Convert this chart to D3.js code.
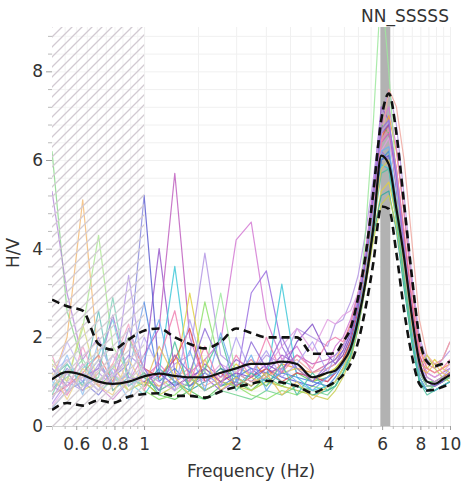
<html>
  <head>
    <title>H/V curves</title>
    <script src="https://d3js.org/d3.v7.min.js"></script>
    <style>
      body { margin: 0; background: #fff; }
      text { font-family: "DejaVu Sans", Verdana, sans-serif; fill: #333; }
    </style>
  </head>

  <body>
    <svg id="hvsr" width="464" height="484"></svg>

    <script>

    // frequency grid of the curves (Hz)
    const freqs = [0.50, 0.56, 0.63, 0.71, 0.79, 0.89, 1.00, 1.12, 1.26, 1.41, 1.58, 1.78, 2.00, 2.24, 2.51,
                   2.82, 3.16, 3.55, 3.98, 4.22, 4.47, 4.73, 5.01, 5.31, 5.62, 5.96, 6.31, 6.68, 7.08, 7.50,
                   7.94, 8.41, 8.91, 9.44, 10.0];

    const curveColors = ["#5cc85c", "#9a5ccc", "#f0a040", "#8ee06a", "#5a5ad0", "#c060c0", "#d47ad4", "#9a6ee0",
                         "#b496e4", "#40c8d8", "#e0d040", "#9ee89e", "#e05050", "#30a8a0", "#4a86e0", "#f0a8a0",
                         "#c8cc50", "#6cd08c", "#8050c8", "#e0a0e0", "#70b0f0", "#f080b0", "#50c0a0", "#b0a0f0",
                         "#e8c060", "#9070d8"];

    // one H/V curve per window
    const windowCurves = [
      [6.2, 2.6, 1.4, 0.9, 1.2, 0.8, 1.0, 0.7, 0.6, 0.8, 0.6, 0.9, 1.0, 0.8, 1.1, 0.9, 1.2, 1.0, 1.1, 1.3, 1.5, 1.9, 2.6, 3.6, 5.0, 6.8, 6.6, 5.4, 3.9, 2.4, 1.3, 1.0, 1.0, 1.1, 1.2],
      [5.3, 3.0, 1.5, 2.0, 1.1, 1.6, 1.3, 4.0, 1.2, 1.0, 1.4, 1.1, 1.5, 1.3, 1.2, 1.6, 1.4, 1.0, 1.3, 1.4, 1.7, 2.1, 2.8, 3.8, 5.4, 7.2, 6.9, 5.3, 3.7, 2.3, 1.3, 0.9, 0.9, 1.0, 1.1],
      [1.0, 2.0, 5.1, 1.5, 0.8, 1.2, 0.9, 1.1, 1.6, 0.9, 1.3, 1.0, 1.2, 1.5, 1.1, 1.4, 1.3, 1.2, 1.4, 1.5, 1.8, 2.3, 3.0, 4.0, 5.2, 6.5, 7.0, 6.2, 4.8, 3.2, 1.8, 1.3, 1.2, 1.3, 1.4],
      [1.5, 1.0, 2.2, 4.3, 1.8, 1.2, 0.8, 0.6, 0.7, 1.0, 2.8, 1.3, 0.9, 0.7, 0.6, 0.8, 0.7, 0.9, 0.8, 1.0, 1.3, 1.7, 2.4, 3.4, 4.6, 6.0, 6.2, 5.0, 3.5, 2.1, 1.2, 0.9, 0.9, 1.0, 1.1],
      [0.8, 1.3, 1.0, 0.7, 1.1, 1.4, 5.2, 1.2, 0.9, 1.1, 0.8, 1.0, 1.2, 1.0, 1.3, 1.1, 1.0, 0.9, 1.1, 1.2, 1.4, 1.8, 2.5, 3.5, 4.8, 6.0, 6.1, 4.9, 3.5, 2.2, 1.2, 0.9, 0.9, 1.0, 1.1],
      [0.9, 0.7, 1.2, 0.9, 0.6, 1.0, 1.6, 2.2, 5.7, 2.0, 1.0, 1.3, 1.1, 0.9, 1.2, 1.3, 1.6, 1.4, 1.5, 1.6, 1.8, 2.2, 2.8, 3.8, 5.0, 6.4, 6.6, 5.6, 4.2, 2.8, 1.6, 1.2, 1.1, 1.2, 1.3],
      [1.1, 0.9, 1.4, 1.0, 1.3, 0.9, 1.1, 1.4, 1.0, 1.2, 1.5, 1.9, 4.2, 4.6, 2.4, 1.5, 1.8, 1.2, 1.4, 1.8, 2.0, 2.4, 3.0, 4.0, 5.4, 6.8, 7.2, 6.3, 4.8, 3.2, 1.9, 1.4, 1.3, 1.5, 1.9],
      [0.5, 1.0, 0.8, 1.2, 0.9, 3.4, 1.1, 0.8, 1.0, 0.9, 1.1, 0.8, 1.0, 3.0, 3.5, 1.8, 1.2, 1.1, 1.0, 1.2, 1.5, 1.9, 2.6, 3.6, 4.9, 6.2, 6.0, 4.8, 3.4, 2.1, 1.1, 0.8, 0.8, 0.9, 1.0],
      [1.2, 1.5, 1.0, 1.3, 1.1, 0.9, 1.2, 1.0, 1.4, 1.6, 3.9, 1.6, 1.3, 1.2, 1.6, 1.4, 2.2, 2.0, 1.8, 2.3, 2.4, 2.8, 3.4, 4.4, 5.6, 7.0, 7.6, 6.8, 5.2, 3.4, 2.0, 1.5, 1.4, 1.5, 1.7],
      [1.0, 0.8, 1.3, 1.6, 2.4, 1.0, 0.7, 1.2, 3.6, 1.1, 0.8, 1.0, 0.9, 1.2, 1.0, 3.2, 1.1, 0.8, 0.9, 1.0, 1.3, 1.6, 2.3, 3.3, 4.6, 5.9, 5.8, 4.6, 3.2, 1.9, 1.0, 0.8, 0.8, 0.9, 1.0],
      [0.9, 1.2, 0.8, 1.0, 1.4, 0.8, 1.0, 0.9, 1.1, 3.0, 1.2, 1.0, 1.4, 1.1, 0.9, 1.2, 1.3, 1.0, 1.2, 1.3, 1.5, 1.8, 2.4, 3.2, 4.3, 5.3, 5.5, 4.7, 3.5, 2.3, 1.4, 1.3, 1.5, 1.3, 1.2],
      [1.3, 0.9, 1.1, 0.8, 1.0, 1.2, 0.9, 1.1, 0.8, 1.0, 1.2, 3.0, 1.1, 0.8, 1.0, 0.9, 0.8, 0.7, 0.8, 1.0, 1.3, 1.7, 2.4, 4.5, 6.9, 10.0, 8.0, 5.5, 3.5, 2.1, 1.2, 0.9, 0.9, 1.0, 1.1],
      [0.7, 0.9, 1.2, 1.6, 1.0, 2.0, 1.3, 1.1, 1.5, 2.2, 1.0, 1.2, 0.9, 1.1, 1.3, 1.0, 1.2, 1.1, 1.0, 1.2, 1.5, 1.9, 2.6, 3.7, 5.0, 6.5, 6.8, 5.8, 4.3, 2.8, 1.6, 1.1, 1.0, 1.1, 1.2],
      [1.1, 1.4, 0.9, 2.6, 0.8, 1.1, 0.9, 1.3, 1.0, 0.8, 1.0, 1.3, 1.1, 0.9, 1.2, 1.0, 0.9, 0.7, 0.8, 0.9, 1.2, 1.5, 2.2, 3.2, 4.3, 5.2, 5.3, 4.4, 3.1, 1.9, 1.0, 0.8, 0.8, 0.9, 1.0],
      [0.4, 0.8, 1.0, 1.5, 0.9, 1.2, 2.8, 1.0, 1.3, 0.9, 1.2, 0.9, 1.1, 1.3, 1.0, 1.2, 1.1, 1.0, 0.9, 1.1, 1.4, 1.8, 2.5, 3.4, 4.7, 6.0, 6.2, 5.0, 3.6, 2.2, 1.1, 0.8, 0.8, 0.9, 1.0],
      [0.8, 1.1, 0.9, 1.2, 1.6, 1.0, 1.2, 0.9, 1.1, 1.3, 0.9, 1.1, 1.2, 1.0, 1.1, 1.3, 1.5, 1.2, 1.3, 1.4, 1.6, 2.0, 2.7, 3.6, 4.8, 6.4, 7.6, 7.2, 6.0, 4.2, 2.4, 1.6, 1.4, 1.5, 1.9],
      [1.4, 1.0, 2.3, 0.9, 1.1, 0.8, 1.0, 0.7, 0.9, 1.1, 0.8, 1.0, 0.9, 0.8, 1.0, 0.9, 0.8, 0.7, 0.6, 0.8, 1.1, 1.5, 2.2, 3.2, 4.2, 5.0, 5.2, 4.5, 3.3, 2.0, 1.3, 1.6, 1.3, 1.1, 1.0],
      [0.9, 1.1, 1.5, 1.0, 1.3, 2.0, 1.1, 0.8, 1.0, 0.7, 0.6, 0.8, 0.7, 0.6, 0.8, 0.7, 0.9, 0.8, 0.7, 0.9, 1.2, 1.6, 2.3, 3.3, 4.6, 5.8, 6.0, 4.9, 3.4, 2.0, 1.1, 0.8, 0.9, 1.0, 1.1],
      [1.3, 0.9, 1.1, 1.3, 2.5, 1.1, 1.0, 1.2, 0.9, 1.1, 1.3, 1.0, 1.2, 1.1, 1.4, 1.2, 1.9, 2.3, 1.6, 1.4, 1.6, 2.0, 2.7, 3.8, 5.2, 6.6, 6.8, 5.6, 4.0, 2.6, 1.4, 1.0, 0.9, 1.0, 1.2],
      [0.45, 0.9, 1.1, 0.8, 1.2, 0.9, 1.3, 1.0, 0.8, 1.2, 1.0, 1.4, 1.2, 1.5, 1.3, 1.8, 2.2, 1.7, 2.4, 2.3, 2.5, 2.6, 3.0, 3.9, 5.0, 6.2, 6.5, 5.5, 4.0, 2.6, 1.5, 1.2, 1.1, 1.2, 1.4],
      [0.9, 1.6, 0.7, 1.9, 1.2, 0.6, 1.5, 2.4, 0.9, 1.7, 0.8, 2.1, 1.0, 1.6, 0.8, 1.3, 1.0, 0.8, 1.1, 1.2, 1.4, 1.8, 2.5, 3.5, 4.8, 6.2, 6.3, 5.1, 3.6, 2.2, 1.1, 0.8, 0.8, 0.9, 1.0],
      [1.6, 0.7, 1.8, 0.9, 1.4, 2.3, 0.8, 1.5, 2.6, 1.0, 1.8, 0.9, 1.6, 1.1, 2.0, 1.2, 1.6, 1.3, 1.9, 2.0, 1.9, 2.3, 2.9, 3.9, 5.1, 6.4, 6.7, 5.8, 4.4, 2.9, 1.7, 1.3, 1.2, 1.3, 1.5],
      [0.7, 1.4, 0.9, 1.1, 2.9, 0.9, 1.2, 0.7, 1.9, 0.8, 1.3, 2.0, 0.8, 1.2, 0.9, 1.4, 0.7, 1.2, 0.8, 0.9, 1.2, 1.6, 2.3, 3.3, 4.5, 5.7, 5.8, 4.7, 3.3, 2.0, 1.0, 0.7, 0.8, 0.9, 1.0],
      [1.0, 1.9, 1.2, 0.8, 1.6, 1.0, 2.0, 1.3, 0.8, 2.4, 1.2, 0.9, 2.0, 1.2, 1.7, 1.1, 1.4, 1.9, 1.2, 1.6, 1.8, 2.2, 2.9, 3.9, 5.2, 6.6, 6.9, 5.7, 4.1, 2.6, 1.4, 1.1, 1.0, 1.1, 1.3],
      [1.2, 0.6, 1.3, 0.9, 0.7, 1.5, 0.9, 1.8, 1.1, 0.7, 1.5, 0.8, 1.1, 0.9, 1.2, 0.7, 1.0, 0.6, 0.9, 1.0, 1.3, 1.7, 2.4, 3.4, 4.6, 5.8, 6.0, 5.0, 3.6, 2.3, 1.3, 1.2, 1.4, 1.2, 1.1],
      [0.6, 1.2, 0.8, 1.4, 0.9, 2.2, 1.3, 0.8, 1.6, 1.2, 2.2, 1.4, 0.9, 1.9, 1.3, 2.0, 1.3, 1.0, 1.4, 1.5, 1.7, 2.1, 2.8, 3.8, 5.2, 6.7, 6.9, 5.6, 4.0, 2.5, 1.3, 1.0, 0.9, 1.0, 1.2]
    ];

    const meanCurve  = [1.05, 1.22, 1.15, 1.0, 0.95, 1.0, 1.12, 1.18, 1.13, 1.1, 1.1, 1.2, 1.3, 1.4, 1.4, 1.45, 1.4, 1.1, 1.2, 1.25, 1.45, 1.75, 2.4, 3.3, 4.5, 6.1, 5.9, 4.9, 3.8, 2.5, 1.45, 1.0, 0.95, 1.05, 1.15];
    const upperCurve = [2.85, 2.7, 2.6, 1.85, 1.72, 1.95, 2.15, 2.2, 2.0, 1.85, 1.75, 1.9, 2.2, 2.1, 2.0, 2.0, 2.0, 1.63, 1.63, 1.65, 1.9, 2.2, 2.9, 3.9, 5.3, 6.9, 7.5, 6.6, 5.0, 3.4, 2.0, 1.45, 1.35, 1.4, 1.45];
    const lowerCurve = [0.36, 0.52, 0.46, 0.58, 0.52, 0.66, 0.72, 0.74, 0.68, 0.68, 0.64, 0.78, 0.88, 0.95, 1.02, 0.98, 0.9, 0.75, 0.9, 1.0, 1.15, 1.4, 1.9, 2.7, 3.7, 4.95, 4.9, 3.9, 2.6, 1.6, 0.95, 0.8, 0.82, 0.88, 0.95];

    const xTickValues = [0.6, 0.8, 1, 2, 4, 6, 8, 10];
    const xMinorTicks = [0.55, 0.65, 0.7, 0.75, 0.85, 0.9, 0.95, 1.5, 2.5, 3, 3.5, 4.5, 5, 5.5, 6.5, 7, 7.5, 8.5, 9, 9.5];
    const yTickValues = [0, 2, 4, 6, 8];
    const yMinorTicks = [0.4, 0.8, 1.2, 1.6, 2.4, 2.8, 3.2, 3.6, 4.4, 4.8, 5.2, 5.6, 6.4, 6.8, 7.2, 7.6, 8.4, 8.8];
    const hatchRange = [0.5, 1.0];
    const peakBand = [5.92, 6.38];
    const stationName = "NN_SSSSS";

    const svg = d3.select("svg#hvsr");
    const width = +svg.attr("width");
    const height = +svg.attr("height");
    const margins = {"top": 27, "right": 14, "bottom": 58, "left": 52};
    const chartWidth = width - margins.left - margins.right;
    const chartHeight = height - margins.top - margins.bottom;

    const xScale = d3.scaleLog().domain([0.5, 10]).range([0, chartWidth]);
    const yScale = d3.scaleLinear().domain([0, 9]).range([chartHeight, 0]);

    const defs = svg.append("defs");
    defs.append("clipPath").attr("id", "plotClip")
        .append("rect").attr("x", 0).attr("y", 0).attr("width", chartWidth).attr("height", chartHeight);

    const hatch = defs.append("pattern").attr("id", "hatch")
        .attr("patternUnits", "userSpaceOnUse").attr("width", 10).attr("height", 10);
    hatch.append("path")
        .attr("d", "M0,10 L10,0 M-2,2 L2,-2 M8,12 L12,8")
        .attr("stroke", "#d2cad2").attr("stroke-width", 1.3);

    const chart = svg.append("g")
        .attr("transform", "translate(" + margins.left + "," + margins.top + ")");

    // gridlines
    const vGrid = chart.append("g").attr("class", "x gridlines")
        .attr("transform", "translate(0," + chartHeight + ")")
        .call(d3.axisBottom(xScale).tickValues(xMinorTicks.concat(xTickValues)).tickSize(-chartHeight).tickFormat(""));
    vGrid.select(".domain").remove();
    vGrid.selectAll("line").attr("stroke", "#f0f0f0");

    const hGrid = chart.append("g").attr("class", "y gridlines")
        .call(d3.axisLeft(yScale).tickValues(yMinorTicks.concat(yTickValues)).tickSize(-chartWidth).tickFormat(""));
    hGrid.select(".domain").remove();
    hGrid.selectAll("line").attr("stroke", "#f0f0f0");

    // peak frequency band
    chart.append("rect")
        .attr("x", xScale(peakBand[0]))
        .attr("y", 0)
        .attr("width", xScale(peakBand[1]) - xScale(peakBand[0]))
        .attr("height", chartHeight)
        .attr("fill", "#b2b2b2");

    const plot = chart.append("g").attr("clip-path", "url(#plotClip)");

    const windowLine = d3.line()
        .x((d, i) => xScale(freqs[i]))
        .y(d => yScale(d));

    const lineGen = d3.line()
        .x((d, i) => xScale(freqs[i]))
        .y(d => yScale(d))
        .curve(d3.curveMonotoneX);

    plot.selectAll("path.window").data(windowCurves)
        .join("path").attr("class", "window")
        .attr("fill", "none")
        .attr("stroke", (d, i) => curveColors[i])
        .attr("stroke-width", 1.2)
        .attr("stroke-opacity", 0.85)
        .attr("stroke-linejoin", "round")
        .attr("d", windowLine);

    // hatched low frequency zone
    plot.append("rect")
        .attr("x", xScale(hatchRange[0])).attr("y", 0)
        .attr("width", xScale(hatchRange[1]) - xScale(hatchRange[0]))
        .attr("height", chartHeight)
        .attr("fill", "#fff").attr("fill-opacity", 0.3);
    plot.append("rect")
        .attr("x", xScale(hatchRange[0])).attr("y", 0)
        .attr("width", xScale(hatchRange[1]) - xScale(hatchRange[0]))
        .attr("height", chartHeight)
        .attr("fill", "url(#hatch)");

    // mean and std curves
    [upperCurve, lowerCurve].forEach(c => {
      plot.append("path").datum(c)
          .attr("fill", "none")
          .attr("stroke", "#111")
          .attr("stroke-width", 2.6)
          .attr("stroke-dasharray", "8,5")
          .attr("d", lineGen);
    });
    plot.append("path").datum(meanCurve)
        .attr("fill", "none")
        .attr("stroke", "#111")
        .attr("stroke-width", 2.2)
        .attr("d", lineGen);

    // axes
    function styleAxis(g) {
      g.attr("font-family", null).attr("font-size", null);
      g.selectAll("text").style("font-size", "17px").attr("fill", "#333");
      g.selectAll(".tick line").attr("stroke", "#a0a0a0");
    }

    const yAxis = chart.append("g").attr("class", "y axis")
        .call(d3.axisLeft(yScale).tickValues(yTickValues).tickSize(6).tickPadding(3));
    yAxis.select(".domain").remove();
    styleAxis(yAxis);

    const yMinor = chart.append("g")
        .call(d3.axisLeft(yScale).tickValues(yMinorTicks).tickSize(4).tickFormat(""));
    yMinor.select(".domain").remove();
    yMinor.selectAll("line").attr("stroke", "#bbb");

    const xAxis = chart.append("g").attr("class", "x axis")
        .attr("transform", "translate(0," + chartHeight + ")")
        .call(d3.axisBottom(xScale).tickValues(xTickValues).tickFormat(d3.format("~g")).tickSize(4).tickPadding(8));
    xAxis.select(".domain").attr("stroke", "#d0d0d0");
    styleAxis(xAxis);

    const xMinor = chart.append("g")
        .attr("transform", "translate(0," + chartHeight + ")")
        .call(d3.axisBottom(xScale).tickValues(xMinorTicks).tickSize(3).tickFormat(""));
    xMinor.select(".domain").remove();
    xMinor.selectAll("line").attr("stroke", "#bbb");

    // labels
    svg.append("text")
        .attr("x", 405).attr("y", 22)
        .attr("text-anchor", "middle")
        .style("font-size", "17px")
        .text(stationName);

    svg.append("text")
        .attr("transform", "translate(19,253) rotate(-90)")
        .attr("text-anchor", "middle")
        .style("font-size", "17px")
        .text("H/V");

    svg.append("text")
        .attr("x", 251).attr("y", 477)
        .attr("text-anchor", "middle")
        .style("font-size", "17px")
        .text("Frequency (Hz)");

    </script>
  </body>
</html>
